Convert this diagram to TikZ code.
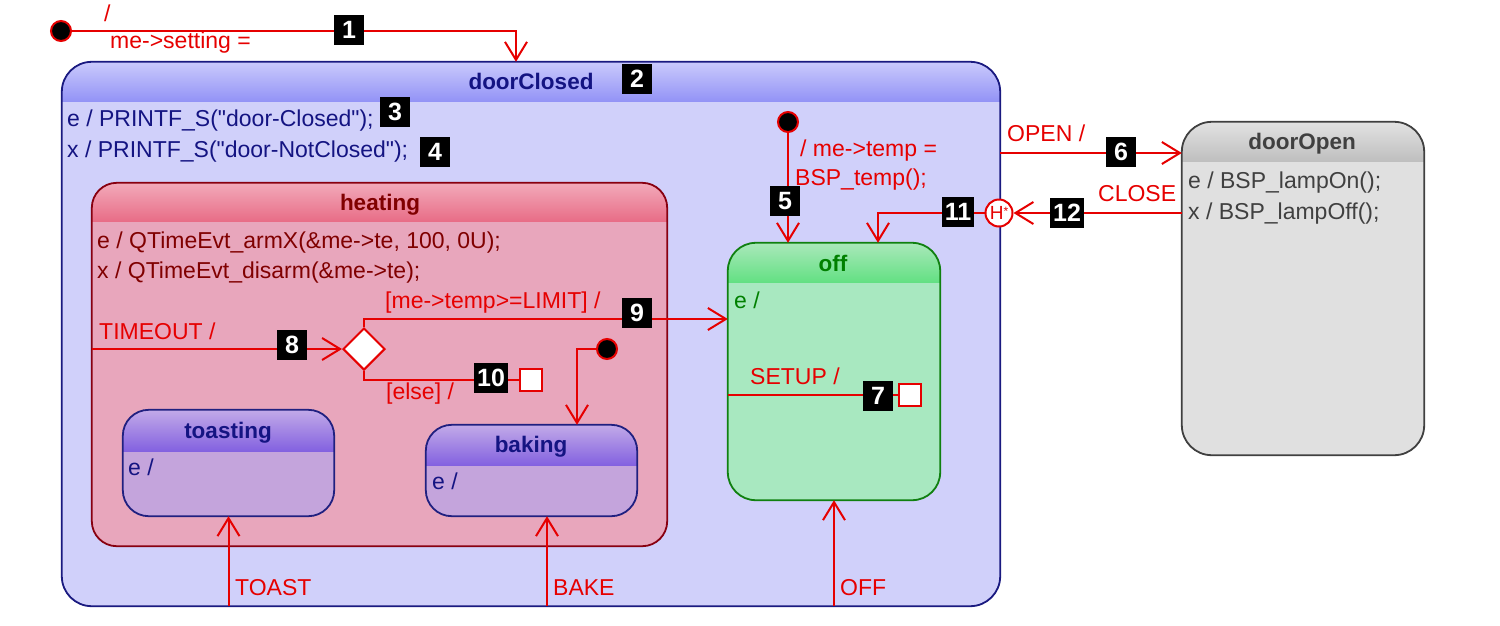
\documentclass[tikz,border=0pt]{standalone}
\usepackage{fontspec}
\setmainfont{Liberation Sans}[Ligatures=TeXOff]
\usetikzlibrary{arrows.meta,shapes.geometric}
\definecolor{trred}{RGB}{230,0,0}
\definecolor{dcTop}{RGB}{202,202,252}
\definecolor{dcBot}{RGB}{146,146,246}
\definecolor{dcBody}{RGB}{208,208,250}
\definecolor{dcLine}{RGB}{26,26,128}
\definecolor{dcText}{RGB}{20,20,130}
\definecolor{htTop}{RGB}{242,170,186}
\definecolor{htBot}{RGB}{232,108,134}
\definecolor{htBody}{RGB}{232,166,188}
\definecolor{htLine}{RGB}{136,0,16}
\definecolor{htText}{RGB}{128,0,0}
\definecolor{sbTop}{RGB}{194,170,232}
\definecolor{sbBot}{RGB}{130,96,224}
\definecolor{sbBody}{RGB}{196,164,220}
\definecolor{sbLine}{RGB}{32,32,128}
\definecolor{ofTop}{RGB}{170,232,186}
\definecolor{ofBot}{RGB}{98,224,130}
\definecolor{ofBody}{RGB}{168,232,192}
\definecolor{ofLine}{RGB}{16,128,16}
\definecolor{ofText}{RGB}{0,128,0}
\definecolor{doTop}{RGB}{226,226,226}
\definecolor{doBot}{RGB}{190,190,190}
\definecolor{doBody}{RGB}{224,224,224}
\definecolor{doLine}{RGB}{64,64,64}
% header shading + border of a state node: name, radius, top, bottom, header height, border colour
\newcommand{\stateDeco}[6]{%
  \begin{scope}
    \clip[rounded corners=#2] (#1.north west) rectangle (#1.south east);
    \shade[top color=#3,bottom color=#4] (#1.north west) rectangle ([yshift=-#5]#1.north east);
  \end{scope}
  \draw[line width=1.8pt,draw=#6,rounded corners=#2] (#1.north west) rectangle (#1.south east);}
\begin{document}
\begin{tikzpicture}[x=1pt,y=-1pt,
  stbox/.style={inner sep=0pt},
  txt/.style={anchor=mid west,inner sep=0pt,yshift=-3.5pt,font=\fontsize{23}{27}\selectfont},
  ttl/.style={anchor=mid,inner sep=0pt,yshift=-3.5pt,font=\fontsize{22.5}{27}\selectfont\bfseries},
  tlab/.style={txt,text=trred},
  badge/.style={fill=black,text=white,inner sep=0pt,minimum height=30pt,minimum width=30pt,inner xsep=3pt,font=\fontsize{25}{30}\selectfont\bfseries},
  initdot/.style={circle,fill=black,draw=trred,line width=2pt,minimum size=20pt,inner sep=0pt},
  term/.style={rectangle,fill=white,draw=trred,line width=2pt,minimum size=22pt,inner sep=0pt},
  tr/.style={draw=trred,line width=2pt,-{Straight Barb[length=18pt,width=22pt,line width=2pt]}},
  trn/.style={draw=trred,line width=2pt}
]
\useasboundingbox (0,0) rectangle (1500,625);

% states
\node[stbox,fill=dcBody,rounded corners=30pt,minimum width=938pt,minimum height=544pt] (doorClosed) at (531,334) {};
\stateDeco{doorClosed}{30pt}{dcTop}{dcBot}{40pt}{dcLine}
\node[stbox,fill=htBody,rounded corners=25pt,minimum width=575pt,minimum height=363pt] (heating) at (379.5,364.5) {};
\stateDeco{heating}{25pt}{htTop}{htBot}{39pt}{htLine}
\node[stbox,fill=sbBody,rounded corners=26pt,minimum width=211pt,minimum height=106pt] (toasting) at (228.5,463) {};
\stateDeco{toasting}{26pt}{sbTop}{sbBot}{42pt}{sbLine}
\node[stbox,fill=sbBody,rounded corners=26pt,minimum width=211pt,minimum height=91pt] (baking) at (531.5,470.5) {};
\stateDeco{baking}{26pt}{sbTop}{sbBot}{41pt}{sbLine}
\node[stbox,fill=ofBody,rounded corners=28pt,minimum width=212pt,minimum height=257pt] (off) at (834,371.5) {};
\stateDeco{off}{28pt}{ofTop}{ofBot}{40pt}{ofLine}
\node[stbox,fill=doBody,rounded corners=30pt,minimum width=242pt,minimum height=333pt] (doorOpen) at (1303,288.5) {};
\stateDeco{doorOpen}{30pt}{doTop}{doBot}{40pt}{doLine}

% state texts
\node[ttl,text=dcText] (tDC) at (531,83) {doorClosed};
\node[txt,text=dcText] (dcE) at (67,120.5) {e / PRINTF\_S("door-Closed");};
\node[txt,text=dcText] (dcX) at (67,151) {x / PRINTF\_S("door-NotClosed");};
\node[ttl,text=htText] (tHT) at (380,204) {heating};
\node[txt,text=htText] (htE) at (97,242) {e / QTimeEvt\_armX(\&me->te, 100, 0U);};
\node[txt,text=htText] (htX) at (97,272) {x / QTimeEvt\_disarm(\&me->te);};
\node[ttl,text=dcText] (tTO) at (228,432) {toasting};
\node[txt,text=dcText] (toE) at (128,469) {e /};
\node[ttl,text=dcText] (tBA) at (531,446) {baking};
\node[txt,text=dcText] (baE) at (432,483) {e /};
\node[ttl,text=ofText] (tOF) at (833,265) {off};
\node[txt,text=ofText] (ofE) at (734,302) {e /};
\node[ttl,text=doLine] (tDO) at (1302,143) {doorOpen};
\node[txt,text=doLine] (doE) at (1188,182) {e / BSP\_lampOn();};
\node[txt,text=doLine] (doX) at (1188,213) {x / BSP\_lampOff();};

% pseudo states
\node[initdot] (init1) at (61,31) {};
\node[initdot] (init2) at (788,122) {};
\node[initdot] (init3) at (607,349) {};
\node[diamond,fill=white,draw=trred,line width=2pt,minimum width=42pt,minimum height=42pt,inner sep=0pt] (choice) at (364,349) {};
\node[term] (term1) at (531,380) {};
\node[term] (term2) at (910,395) {};
\node[circle,fill=white,draw=trred,line width=2pt,minimum size=27pt,inner sep=0pt,text=trred,font=\fontsize{19}{20}\selectfont] (hist) at (999,213) {H\raisebox{0.45ex}{\fontsize{12}{12}\selectfont*}};

% transitions
\draw[tr] (init1.east) -| (doorClosed.north -| 516,0);
\draw[tr] (init2.south) -- (init2 |- off.north);
\draw[tr] (doorClosed.east |- 0,153) -- (doorOpen.west |- 0,153);
\draw[tr] (doorOpen.west |- 0,213) -- (hist.east);
\draw[tr] (hist.west) -| (off.north -| 878,0);
\draw[tr] (heating.west |- choice) -- (choice.west);
\draw[tr] (choice.north) |- (off.west |- 0,319);
\draw[trn] (choice.south) |- (term1.west);
\draw[tr] (init3.west) -| (baking.north -| 577,0);
\draw[trn] (off.west |- term2) -- (term2.west);
\draw[tr] (toasting.south |- doorClosed.south) -- (toasting.south);
\draw[tr] (doorClosed.south -| 547,0) -- (baking.south -| 547,0);
\draw[tr] (off.south |- doorClosed.south) -- (off.south);

% transition labels
\node[tlab] (l1a) at (104,15) {/};
\node[tlab] (l1b) at (110,42) {me->setting =};
\node[tlab] (l5a) at (800,150) {/ me->temp =};
\node[tlab] (l5b) at (795,179) {BSP\_temp();};
\node[tlab] (lOpen) at (1007,135) {OPEN /};
\node[tlab] (lClose) at (1098,195) {CLOSE};
\node[tlab] (lTime) at (99,333) {TIMEOUT /};
\node[tlab] (lLim) at (385,302) {[me->temp>=LIMIT] /};
\node[tlab] (lElse) at (386,393) {[else] /};
\node[tlab] (lSetup) at (750,378) {SETUP /};
\node[tlab] (lToast) at (235,589) {TOAST};
\node[tlab] (lBake) at (553,589) {BAKE};
\node[tlab] (lOff) at (840,589) {OFF};

% badges
\node[badge] (b1) at (349,30) {1};
\node[badge] (b2) at (637,79) {2};
\node[badge] (b3) at (395,112) {3};
\node[badge] (b4) at (435,152) {4};
\node[badge] (b5) at (785,201) {5};
\node[badge] (b6) at (1121,152) {6};
\node[badge] (b7) at (878,396) {7};
\node[badge] (b8) at (292,345) {8};
\node[badge] (b9) at (637,313) {9};
\node[badge] (b10) at (491,378) {10};
\node[badge] (b11) at (958,212) {11};
\node[badge] (b12) at (1067,213) {12};
\end{tikzpicture}
\end{document}
